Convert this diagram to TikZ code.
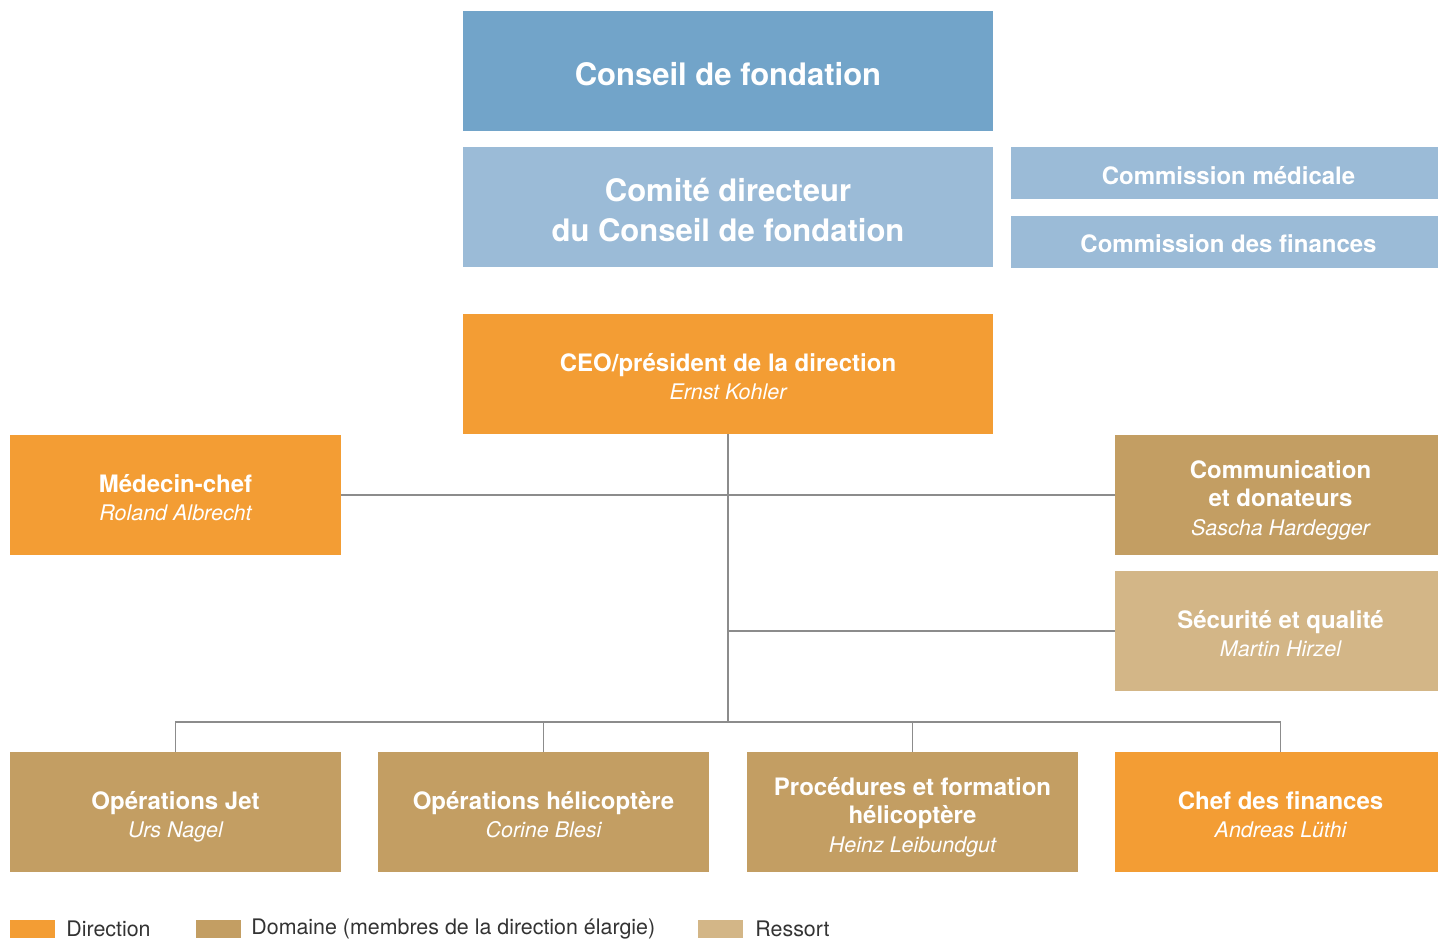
\documentclass[tikz,border=0pt]{standalone}
\usepackage{fontspec}
\setmainfont{TeX Gyre Heros}
\usetikzlibrary{positioning}

\definecolor{conseilblue}{HTML}{72A4C9}
\definecolor{comiteblue}{HTML}{9BBBD7}
\definecolor{direction}{HTML}{F39D34}
\definecolor{domaine}{HTML}{C39E63}
\definecolor{ressort}{HTML}{D3B687}
\definecolor{linegray}{HTML}{8C8C8C}
\definecolor{legendtext}{HTML}{333333}

% name of the person, light italic (descenders not counted)
\newcommand{\nm}[1]{\raisebox{0pt}[\height][0pt]{\mdseries\itshape\fontsize{21.5}{28.5}\selectfont #1}}
% strut on the first line of a box
\newcommand{\up}{\rule{0pt}{0.96em}}

\tikzset{
  orgbox/.style={inner sep=0pt, minimum height=120pt, align=center, text=white,
    font=\fontsize{24}{28.5}\selectfont\bfseries},
  wide/.style={orgbox, minimum width=530pt, font=\fontsize{31}{40}\selectfont\bfseries},
  smallbox/.style={orgbox, minimum width=331pt},
  commbox/.style={orgbox, minimum width=435pt, minimum height=52pt, fill=comiteblue},
  link/.style={draw=linegray, line width=1.3pt},
  legsq/.style={inner sep=0pt, minimum width=45pt, minimum height=18pt},
  legtxt/.style={text=legendtext, font=\fontsize{21.4}{24}\selectfont, inner sep=0pt}
}

\begin{document}
\begin{tikzpicture}[x=1pt, y=-1pt]
      \useasboundingbox (0,0) rectangle (1438,942);
      % Conseil de fondation and Comite directeur
      \node[wide, fill=conseilblue] (conseil) at (728,71) {\up Conseil de fondation};
      \node[wide, fill=comiteblue] (comite) at (728,207) {\up Comité directeur\\du Conseil de fondation};
      % commissions on the right
      \node[commbox] (commed) at (1228.5,173) {\up Commission médicale};
      \node[commbox] (comfin) at (1228.5,241.5) {\up Commission des finances};
      % CEO
      \node[wide, fill=direction, font=\fontsize{24}{28.5}\selectfont\bfseries] (ceo)
        at (728,374) {\up CEO/président de la direction\\\nm{Ernst Kohler}};
      % staff level
      \node[smallbox, fill=direction] (medecin) at (175.5,495) {\up Médecin-chef\\\nm{Roland Albrecht}};
      \node[smallbox, fill=domaine] (comm) at (1280.5,495) {\up Communication\\et donateurs\\\nm{Sascha Hardegger}};
      \node[smallbox, fill=ressort] (secu) at (1280.5,631) {\up Sécurité et qualité\\\nm{Martin Hirzel}};
      % bottom row
      \node[smallbox, fill=domaine] (jet) at (175.5,812) {\up Opérations Jet\\\nm{Urs Nagel}};
      \node[smallbox, fill=domaine] (heli) at (543.5,812) {\up Opérations hélicoptère\\\nm{Corine Blesi}};
      \node[smallbox, fill=domaine] (proc) at (912.5,812) {\up Procédures et formation\\hélicoptère\\\nm{Heinz Leibundgut}};
      \node[smallbox, fill=direction] (cfo) at (1280.5,812) {\up Chef des finances\\\nm{Andreas Lüthi}};
      % connectors
      \coordinate (bus) at (728,722);
      \draw[link] (ceo.south) -- (bus);
      \draw[link] (medecin.east) -- (comm.west);
      \draw[link] (secu.west) -- (ceo.south |- secu.west);
      \draw[link] (jet.north) |- (cfo.north |- bus) -- (cfo.north);
      \draw[link] (heli.north) -- (heli.north |- bus);
      \draw[link] (proc.north) -- (proc.north |- bus);
      % legend
      \node[legsq, fill=direction] (legdir) at (32.5,929) {};
      \node[legtxt, anchor=west, right=11pt of legdir] (legdirtxt) {Direction};
      \node[legsq, fill=domaine] (legdom) at (218.5,929) {};
      \node[legtxt, anchor=west, right=10pt of legdom] (legdomtxt) {Domaine (membres de la direction élargie)};
      \node[legsq, fill=ressort] (legres) at (720.5,929) {};
      \node[legtxt, anchor=west, right=12pt of legres] (legrestxt) {Ressort};
\end{tikzpicture}
\end{document}
